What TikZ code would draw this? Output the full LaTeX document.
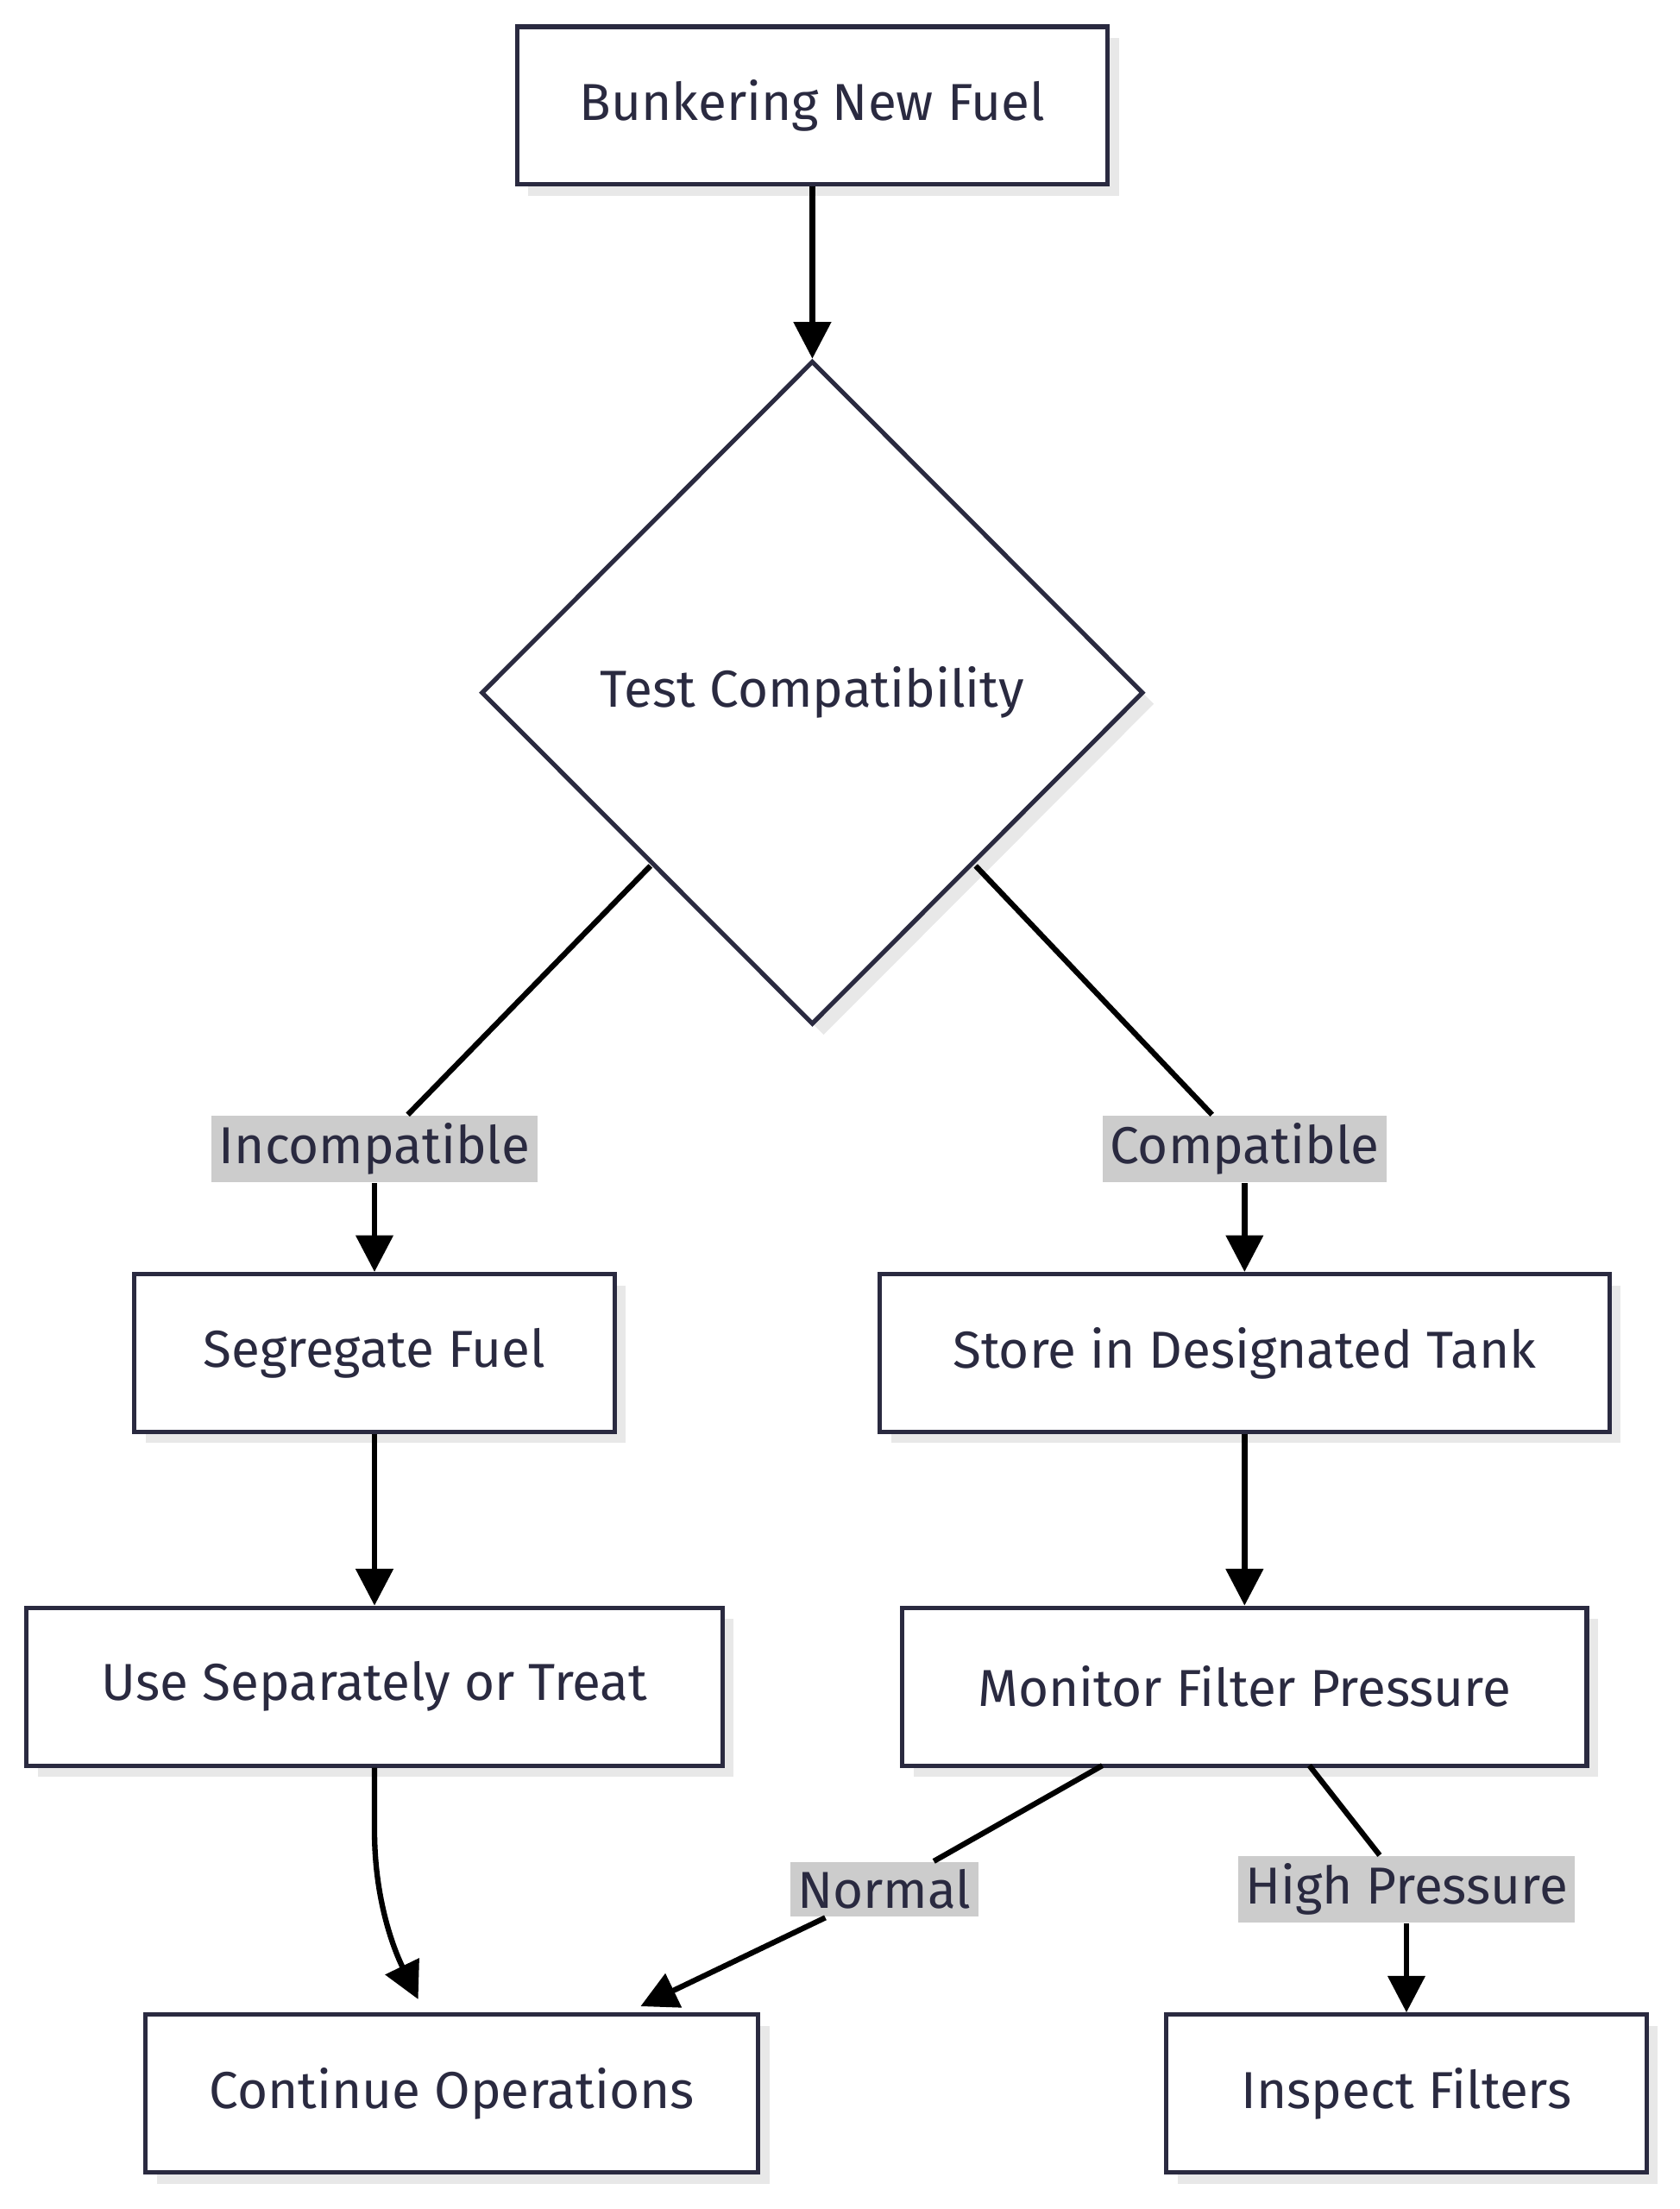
\documentclass[tikz,border=0pt]{standalone}
\usepackage{fontspec}
\setmainfont{Fira Sans}
\usetikzlibrary{arrows.meta,shapes.geometric,positioning}
\definecolor{boxline}{HTML}{2A2A40}
\definecolor{lblbg}{HTML}{CCCCCC}
\definecolor{shade}{HTML}{E8E8E8}
\tikzset{
  box/.style={draw=boxline, line width=0.9pt, fill=white, inner sep=0pt,
    minimum height=1.12cm, font=\fontsize{10.5}{12}\selectfont\color{boxline},
    drop shadow={shadow xshift=0.08cm, shadow yshift=-0.08cm, fill=shade, opacity=1}},
  lbl/.style={fill=lblbg, inner sep=1.5pt, font=\fontsize{10.5}{12}\selectfont\color{boxline}},
  flow/.style={line width=1.1pt, -{Triangle[length=0.26cm,width=0.26cm]}},
}
\usetikzlibrary{shadows}
\begin{document}
\begin{tikzpicture}[x=0.01cm,y=-0.01cm]
	\useasboundingbox (0,0) rectangle (1193,1569);
	% Cajas
		\node[box, minimum width=4.19cm] (bunker) at (577,75) {Bunkering New Fuel};
		\node[box, diamond, minimum width=4.7cm, minimum height=4.71cm] (test) at (577,492) {Test Compatibility};
		\node[box, minimum width=3.41cm] (segregate) at (266,961) {Segregate Fuel};
		\node[box, minimum width=5.18cm] (store) at (884,961) {Store in Designated Tank};
		\node[box, minimum width=4.94cm] (useSep) at (266,1198) {Use Separately or Treat};
		\node[box, minimum width=4.86cm] (monitor) at (884,1198) {Monitor Filter Pressure};
		\node[box, minimum width=4.35cm] (continue) at (321,1487) {Continue Operations};
		\node[box, minimum width=3.41cm] (inspect) at (999,1487) {Inspect Filters};
	% Etiquetas
		\node[lbl] (incompat) at (266,816) {Incompatible};
		\node[lbl] (compat) at (884,816) {Compatible};
		\node[lbl] (normal) at (628,1342) {Normal};
		\node[lbl] (high) at (999,1342) {High Pressure};
	% Flechas
		\draw[flow] (bunker) -- (test);
		\draw[line width=1.1pt] (462,615) -- (incompat);
		\draw[flow] (incompat) -- (segregate);
		\draw[line width=1.1pt] (693,615) -- (compat);
		\draw[flow] (compat) -- (store);
		\draw[flow] (segregate) -- (useSep);
		\draw[flow] (store) -- (monitor);
		\draw[flow] (useSep.south) -- (266,1300) .. controls (266,1350) and (280,1385) .. (297,1420);
		\draw[line width=1.1pt] (783,1254) -- (normal);
		\draw[flow] (normal) -- (455,1425);
		\draw[line width=1.1pt] (930,1254) -- (high);
		\draw[flow] (high) -- (inspect);
\end{tikzpicture}
\end{document}
